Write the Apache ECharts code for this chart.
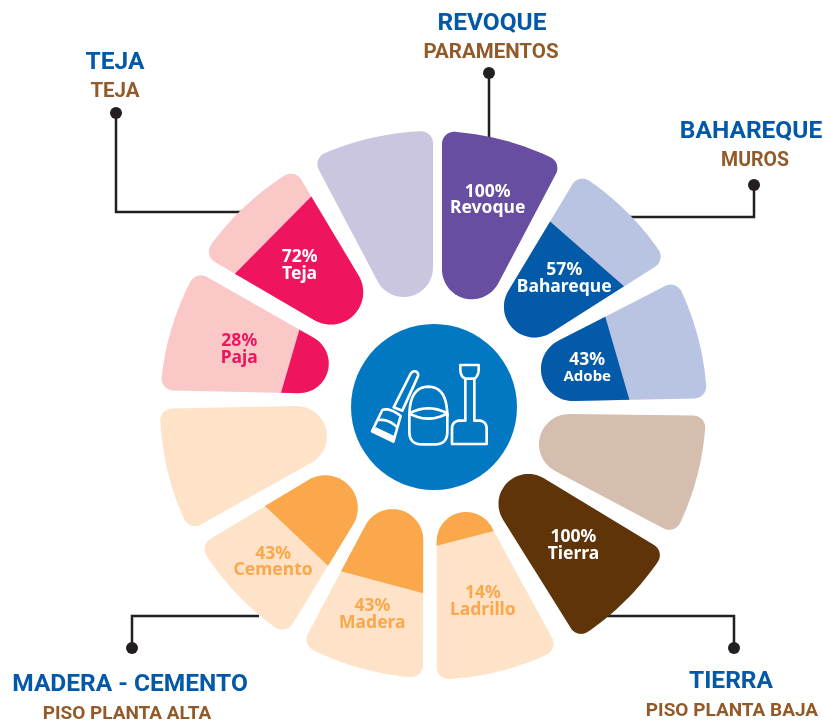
<!DOCTYPE html>
<html>
<head>
<meta charset="utf-8">
<title>Materiales de construccion</title>
<style>
html, body { margin: 0; padding: 0; background: #fff; }
#main { width: 823px; height: 722px; }
</style>
<script src="https://cdn.jsdelivr.net/npm/echarts@6/dist/echarts.min.js"></script>
</head>
<body>
<div id="main"></div>
<script>
// petalos en sentido horario desde arriba
var categories = ['Revoque', 'Bahareque', 'Adobe', 'Tierra (resto)', 'Tierra', 'Ladrillo', 'Madera', 'Cemento', 'Piso alta (resto)', 'Paja', 'Teja', 'Parametos (resto)'];
var labelPct = [100, 57, 43, null, 100, 14, 43, 43, null, 28, 72, null];
// nivel del relleno tal como esta dibujado (la infografia no va del todo a escala)
var drawnLevel = [100, 63, 47, 0, 100, 13, 42, 45, 0, 22, 74, 0];
var calloutTitles = ['REVOQUE', 'TEJA', 'BAHAREQUE', 'MADERA - CEMENTO', 'TIERRA'];
var calloutSubs = ['PARAMENTOS', 'TEJA', 'MUROS', 'PISO PLANTA ALTA', 'PISO PLANTA BAJA'];

// estilos y posiciones
var lightColor = ['#cbc6e0', '#b9c4e2', '#b9c4e2', '#d5bead', '#d5bead', '#fee3c8', '#fee3c8', '#fee3c8', '#fee3c8', '#fbc8c8', '#fbc8c8', '#cbc6e0'];
var darkColor = ['#674ea0', '#035aa9', '#035aa9', '#5f3409', '#5f3409', '#fba74b', '#fba74b', '#fba74b', '#fba74b', '#ef145e', '#ef145e', '#674ea0'];
var labelColor = ['#fff', '#fff', '#fff', '#fff', '#fff', '#fba74b', '#fba74b', '#fba74b', '#fba74b', '#ef145e', '#fff', '#fff'];
var labelLevel = [62, 50, 28, 0, 51, 53, 62, 67, 0, 55, 51, 0];
var labelShift = [[-1, 1], [-7, 10], [0, 3], [0, 0], [1, -1], [-2, 1], [-5, 0], [-2, -3], [0, 0], [3, -5], [6, -2], [0, 0]];
var nameSize = [17.5, 17.5, 15, 17.5, 17.5, 17.5, 17.5, 17.5, 17.5, 17.5, 17.5, 17.5];
var calloutPos = [[492, 50], [115, 89], [751, 158], [130, 711], [731, 708]];
var subDx = [-1, 0, 4, -3, 1];
var subSize = [20.5, 20.5, 19.5, 19, 19];
var leaders = [
	[[489, 73], [489, 137]],
	[[116, 113], [116, 212], [242, 212]],
	[[754, 185], [754, 217], [630, 217]],
	[[132, 648], [132, 616], [259, 616]],
	[[734, 648], [734, 616], [607, 616]]
];

var CX = 433, CY = 407, R = 277;
var RHO_OUT = 12;
// ajuste fino de cada petalo, el dibujo original no es regular:
// giro y semiangulo (grados), margen izq/der, radio exterior, radio interior, giro del corte
var petalShape = [
	[-1.1, 13.9, 9, 0, 276, 113, 0],
	[-0.7, 13.3, 4.8, -0.5, 275, 112, -3],
	[0.8, 13, -1.6, 3.1, 274, 113, -2],
	[-0.7, 13.6, 5.4, 0.6, 273, 111, 0],
	[-0.4, 13.4, 3.5, -0.3, 273, 106, 0],
	[0.7, 14.3, 6, 3.7, 272.5, 109, -0.4],
	[-1, 13.95, 9.7, -4.2, 271, 108, 0.9],
	[0.2, 13.8, 6.9, -1.6, 271, 115, -1.8],
	[-0.15, 14.05, 10.6, -3.6, 273, 109, 0],
	[0.45, 14.25, 11, -1, 273, 111, 0.75],
	[-0.3, 14.4, 15.2, -3.7, 275, 121, 0],
	[1.1, 13.9, 9.6, 0, 276, 113, 0]
];

function toRad(d) { return d * Math.PI / 180; }

// centro del redondeo exterior (side: +1 derecha, -1 izquierda)
function outerCorner(alpha, s, rOut, side) {
	var sin = Math.sin(alpha), cos = Math.cos(alpha);
	var lo = 0, hi = rOut, u = 0, v = 0;
	for (var k = 0; k < 40; k++) {
		u = (lo + hi) / 2;
		v = (u * sin - s - RHO_OUT) / cos;
		if (u * u + v * v > (rOut - RHO_OUT) * (rOut - RHO_OUT)) hi = u; else lo = u;
	}
	return [u, side * v];
}

// contorno del petalo en coordenadas locales (u: radial, v: perpendicular)
function buildOutline(shape) {
	var alpha = toRad(shape[1]), sL = shape[2], sR = shape[3], rOut = shape[4], uIn = shape[5];
	var sin = Math.sin(alpha);
	var mean = (sL + sR) / 2;
	var rhoIn = (uIn * sin - mean) / (1 - sin);
	var uci = uIn + rhoIn;
	var vci = (sL - sR) / (2 * Math.cos(alpha));
	var cR = outerCorner(alpha, sR, rOut, 1);
	var cL = outerCorner(alpha, sL, rOut, -1);
	var phiR = Math.atan2(cR[1], cR[0]);
	var phiL = Math.atan2(cL[1], cL[0]);
	var phiN = Math.PI / 2 + alpha;
	var pts = [];
	var i, a, n = 14;
	for (i = 0; i <= n; i++) {
		a = phiN + (phiR - phiN) * i / n;
		pts.push([cR[0] + RHO_OUT * Math.cos(a), cR[1] + RHO_OUT * Math.sin(a)]);
	}
	for (i = 1; i < 24; i++) {
		a = phiR + (phiL - phiR) * i / 24;
		pts.push([rOut * Math.cos(a), rOut * Math.sin(a)]);
	}
	for (i = 0; i <= n; i++) {
		a = phiL + (-phiN - phiL) * i / n;
		pts.push([cL[0] + RHO_OUT * Math.cos(a), cL[1] + RHO_OUT * Math.sin(a)]);
	}
	for (i = 0; i <= 30; i++) {
		a = -phiN - (2 * Math.PI - 2 * phiN) * i / 30;
		pts.push([uci + rhoIn * Math.cos(a), vci + rhoIn * Math.sin(a)]);
	}
	return pts;
}
var outlines = petalShape.map(buildOutline);

// recorta el contorno con la recta de corte (normal girada tilt)
function clipOutline(pts, cut, tilt) {
	var c = Math.cos(tilt), s = Math.sin(tilt);
	function d(p) { return p[0] * c + p[1] * s - cut; }
	var out = [];
	for (var i = 0; i < pts.length; i++) {
		var p = pts[i], q = pts[(i + 1) % pts.length];
		var dp = d(p), dq = d(q);
		if (dp <= 0) out.push(p);
		if ((dp <= 0) !== (dq <= 0)) {
			var t = dp / (dp - dq);
			out.push([p[0] + (q[0] - p[0]) * t, p[1] + (q[1] - p[1]) * t]);
		}
	}
	return out;
}

function renderPetal(params, api) {
	var idx = api.value(0), level = api.value(1);
	var shape = petalShape[idx], outline = outlines[idx];
	var tip = api.coord([100, idx]);
	var theta = Math.atan2(tip[0] - CX, CY - tip[1]) + toRad(shape[0]);
	function toPx(p) {
		return [
			CX + p[0] * Math.sin(theta) + p[1] * Math.cos(theta),
			CY - p[0] * Math.cos(theta) + p[1] * Math.sin(theta)
		];
	}
	var cutPt = api.coord([level, idx]);
	var cut = Math.sqrt(Math.pow(cutPt[0] - CX, 2) + Math.pow(cutPt[1] - CY, 2));
	var children = [{
		type: 'polygon',
		shape: { points: outline.map(toPx) },
		style: { fill: level >= 100 ? darkColor[idx] : lightColor[idx] }
	}];
	if (level > 0 && level < 100) {
		children.push({
			type: 'polygon',
			shape: { points: clipOutline(outline, cut, toRad(shape[6])).map(toPx) },
			style: { fill: darkColor[idx] }
		});
	}
	if (labelPct[idx] !== null) {
		var lp = api.coord([labelLevel[idx], idx]);
		children.push({
			type: 'text',
			style: {
				x: lp[0] + labelShift[idx][0], y: lp[1] + labelShift[idx][1],
				text: '{p|' + labelPct[idx] + '%}\n{n|' + categories[idx] + '}',
				fill: labelColor[idx],
				align: 'center',
				verticalAlign: 'middle',
				rich: {
					p: { font: 'bold 17.5px "Noto Sans"', lineHeight: 16.5, fill: labelColor[idx] },
					n: { font: 'bold ' + nameSize[idx] + 'px "Noto Sans"', lineHeight: 16.5, fill: labelColor[idx] }
				}
			}
		});
	}
	return { type: 'group', children: children };
}

var graphics = [];
leaders.forEach(function (pts) {
	graphics.push({
		type: 'polyline',
		shape: { points: pts },
		style: { stroke: '#231f20', lineWidth: 2.5, fill: null }
	});
	graphics.push({
		type: 'circle',
		shape: { cx: pts[0][0], cy: pts[0][1], r: 6 },
		style: { fill: '#231f20' }
	});
});
calloutTitles.forEach(function (t, i) {
	graphics.push({
		type: 'text',
		style: {
			x: calloutPos[i][0], y: calloutPos[i][1] - 14,
			text: t,
			fill: '#0359a8',
			font: 'bold 24.5px Roboto',
			align: 'center',
			verticalAlign: 'bottom'
		}
	});
	graphics.push({
		type: 'text',
		style: {
			x: calloutPos[i][0] + subDx[i], y: calloutPos[i][1] + 13,
			text: calloutSubs[i],
			fill: '#925a28',
			font: 'bold ' + subSize[i] + 'px Roboto',
			align: 'center',
			verticalAlign: 'bottom'
		}
	});
});

// tramos curvos del icono, en puntos
function q(a, b, c) {
	var pts = [];
	for (var i = 1; i <= 10; i++) {
		var t = i / 10, s = 1 - t;
		pts.push([s * s * a[0] + 2 * s * t * b[0] + t * t * c[0], s * s * a[1] + 2 * s * t * b[1] + t * t * c[1]]);
	}
	return pts;
}
function iconLine(points, closed) {
	return {
		type: closed ? 'polygon' : 'polyline',
		shape: { points: points },
		style: { stroke: '#fff', lineWidth: 8, fill: closed ? 'none' : null, lineJoin: 'round' }
	};
}

// circulo central con el icono
graphics.push({
	type: 'circle',
	shape: { cx: 434, cy: 407, r: 83 },
	style: { fill: '#0378c2' }
});
graphics.push({
	type: 'group',
	x: 340, y: 320, scaleX: 1 / 3, scaleY: 1 / 3,
	children: [
		// cubo
		iconLine([[208, 290]].concat(q([208, 290], [208, 200], [265, 200]), q([265, 200], [322, 200], [322, 290]))),
		iconLine([[208, 280]].concat(q([208, 280], [265, 250], [322, 280]), q([322, 280], [265, 312], [208, 280])), true),
		iconLine([[208, 280], [208, 335]].concat(q([208, 335], [208, 373], [245, 373]), [[285, 373]], q([285, 373], [322, 373], [322, 335]), [[322, 280]])),
		// pala
		iconLine([[361, 135], [416, 135], [416, 150]].concat(q([416, 150], [414, 170], [403, 176]), [[403, 302], [420, 302]], q([420, 302], [440, 305], [440, 327]), [[440, 372], [336, 372], [336, 327]], q([336, 327], [336, 305], [356, 302]), [[376, 302], [376, 176]], q([376, 176], [362, 170], [361, 150])), true),
		iconLine([[376, 176], [403, 176]]),
		// escoba
		iconLine([[210, 165]].concat(q([210, 165], [218, 150], [229, 155]), q([229, 155], [238, 161], [232, 173]), [[187, 272], [161, 262]]), true),
		iconLine([[127, 270]].concat(q([127, 270], [150, 262], [182, 288]), [[160, 365], [96, 334]]), true),
		iconLine([[115, 300]].concat(q([115, 300], [145, 296], [172, 322]))),
		{ type: 'polygon', shape: { points: [[108, 322], [168, 350], [160, 365], [96, 334]] }, style: { fill: '#fff' } }
	]
});

var chart = echarts.init(document.getElementById('main'));
chart.setOption({
	animation: false,
	polar: { center: [CX, CY], radius: R },
	angleAxis: { type: 'category', data: categories, startAngle: 90, clockwise: true, show: false },
	radiusAxis: { type: 'value', min: -70, max: 100, show: false },
	series: [{
		type: 'custom',
		coordinateSystem: 'polar',
		clip: false,
		silent: true,
		renderItem: renderPetal,
		data: drawnLevel.map(function (v, i) { return [i, v]; }),
		encode: { angle: 0, radius: 1 }
	}],
	graphic: { elements: graphics }
});
</script>
</body>
</html>
